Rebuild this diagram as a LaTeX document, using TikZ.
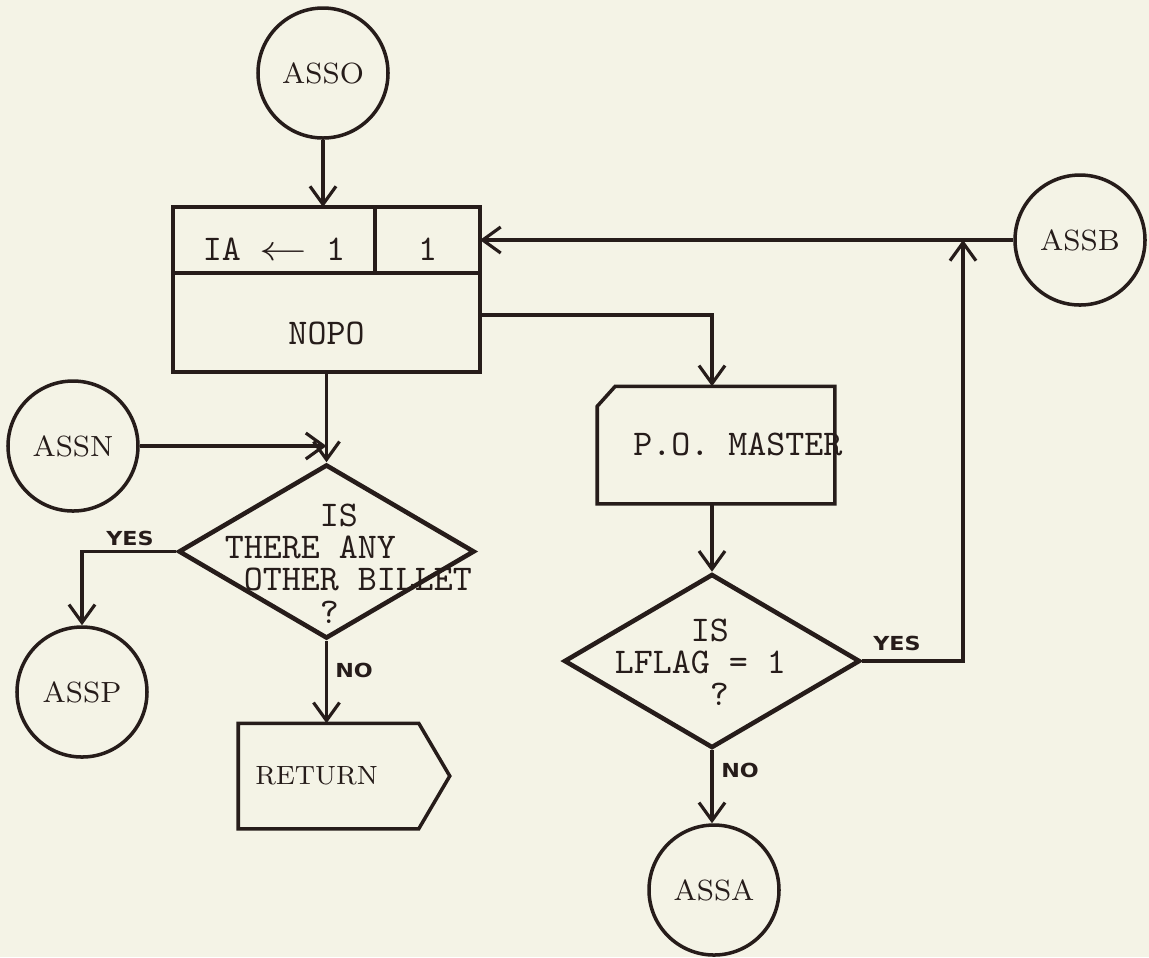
\documentclass[tikz,border=0pt]{standalone}
\usepackage{fontspec}
\usetikzlibrary{positioning,arrows.meta,shapes.geometric}
\newfontfamily\yesnofont{DejaVu Sans}
\definecolor{paper}{RGB}{244,243,230}
\definecolor{ink}{RGB}{38,28,26}
\newcommand{\ttsize}{\fontsize{10.3}{9.2}\selectfont\ttfamily}
\newcommand{\yntext}[1]{\scalebox{1.15}[1]{#1}}

\begin{document}
\begin{tikzpicture}[
  ink, line width=1pt,
  >={Straight Barb[length=1.8mm,width=2.6mm]},
  conn/.style={->, line width=0.9pt},
  term/.style={draw, circle, minimum size=1.3cm, inner sep=0pt,
               font=\fontsize{8.3}{10}\selectfont\rmfamily},
  cell/.style={draw, inner sep=0pt, outer sep=0pt, minimum height=0.66cm,
               text height=0.4cm, text depth=0cm, font=\ttsize},
  decision/.style={draw, diamond, minimum width=2.96cm, minimum height=1.74cm,
                   inner sep=0pt, line width=1.3pt},
  qtext/.style={align=left, inner sep=0pt, font=\ttsize},
  yn/.style={inner sep=0pt, font=\fontsize{5.5}{6}\selectfont\yesnofont\bfseries},
]
\fill[paper] (0,0) rectangle (11.49,-9.57);
\useasboundingbox (0,0) rectangle (11.49,-9.57);

% connectors' end circles
\node[term] (asso) at (3.23,-0.73) {ASSO};
\node[term] (assb) at (10.80,-2.40) {ASSB};
\node[term] (assn) at (0.73,-4.46) {ASSN};
\node[term] (assp) at (0.82,-6.92) {ASSP};
\node[term] (assa) at (7.14,-8.90) {ASSA};

% initialise box
\node[cell, minimum width=2.02cm] (ia) at (2.74,-2.40) {IA \scalebox{1.35}[1]{$\leftarrow$} 1};
\node[cell, minimum width=1.05cm, right=0pt of ia] (one) {1};
\node[draw, minimum width=3.07cm, minimum height=0.99cm, inner sep=0pt,
      text height=0.43cm, text depth=0cm, font=\ttsize] (nopo) at (3.265,-3.225) {NOPO};
\coordinate (jn) at (9.63,-2.40);

% file read
\node[minimum width=2.34cm, minimum height=1.14cm, inner sep=0pt] (pom) at (7.16,-4.45) {};
\draw ([yshift=-0.2cm]pom.north west) -- ([xshift=0.18cm]pom.north west) -- (pom.north east)
  -- (pom.south east) -- (pom.south west) -- cycle;
\node[font=\ttsize] (pomt) at (7.38,-4.44) {P.O. MASTER};

% decisions
\node[decision] (bil) at (3.265,-5.515) {};
\node[qtext, anchor=north west] (bilq) at (2.23,-5.02)
  {\phantom{00000}IS\\THERE ANY\\\phantom{0}OTHER BILLET\\\phantom{00000}?};
\node[decision] (lflag) at (7.12,-6.61) {};
\node[qtext, anchor=north west] (lflagq) at (6.13,-6.17)
  {\phantom{0000}IS\\LFLAG = 1\\\phantom{00000}?};

% exit
\node[inner sep=0pt, minimum width=1.77cm, minimum height=1.02cm,
      font=\fontsize{7.5}{9}\selectfont\rmfamily] (ret) at (3.285,-7.76) {RETURN\kern0.24cm};
\draw (ret.north west) -- (ret.north east) -- ([xshift=0.31cm]ret.east)
  -- (ret.south east) -- (ret.south west) -- cycle;

% branch labels
\node[yn] (ylft) at (1.30,-5.38) {\yntext{YES}};
\node[yn] (nlft) at (3.54,-6.70) {\yntext{NO}};
\node[yn] (yrgt) at (8.97,-6.43) {\yntext{YES}};
\node[yn] (nrgt) at (7.40,-7.70) {\yntext{NO}};

\draw[conn] (asso.south) -- (asso.south |- ia.north);
\draw[conn] (assb) -- (one.east);
\draw[conn] ([yshift=0.075cm]nopo.east) -| (lflag |- pom.north);
\draw[conn] (lflag |- pom.south) -- (lflag.north);
\draw[conn] (lflag.east) -| (jn);
\draw[conn] (lflag.south) -- (lflag.south |- assa.north);
\draw[conn] (nopo.south) -- (bil.north);
\coordinate (mg) at (nopo.south |- assn);
\draw[conn] (assn) -- (mg);
\draw[conn] (bil.west) -| (assp.north);
\draw[conn] (bil.south) -- (bil.south |- ret.north);
\end{tikzpicture}
\end{document}
